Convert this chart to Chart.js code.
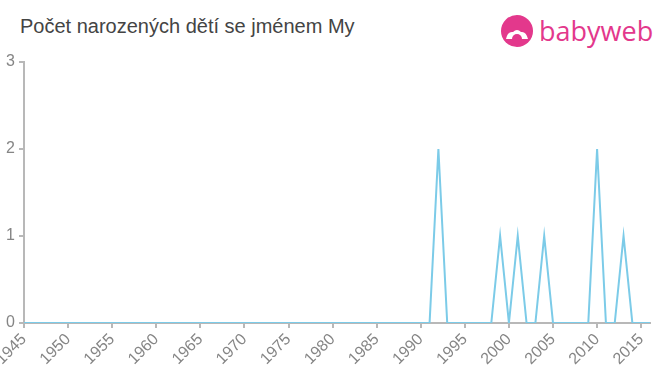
<!DOCTYPE html>
<html>
<head>
<meta charset="utf-8">
<script src="https://cdn.jsdelivr.net/npm/chart.js@4.4.1/dist/chart.umd.min.js"></script>
<style>
  html, body { margin: 0; padding: 0; background: #fff; overflow: hidden; }
  body { width: 660px; height: 375px; position: relative; font-family: "Liberation Sans", Arial, sans-serif; }
  #title { position: absolute; left: 20px; top: 15px; font-size: 20px; color: #444; }
  #logo { position: absolute; left: 500px; top: 14px; height: 34px; }
  #logo span { position: absolute; left: 39px; top: -2px; font-size: 27px; color: #e3388c; font-family: "Open Sans", sans-serif; }
  #chart { position: absolute; left: -12px; top: 0; }
</style>
</head>
<body>
<div id="title">Počet narozených dětí se jménem My</div>
<div id="logo">
  <svg width="34" height="34" viewBox="0 0 34 34">
    <circle cx="17" cy="17" r="16" fill="#e3388c"/>
    <path d="M6 25 Q8 17 13 18 Q17 14 21 18 Q26 17 28 25 Z" fill="#fff"/>
    <circle cx="17" cy="25" r="5" fill="#e3388c"/>
  </svg>
  <span>babyweb</span>
</div>
<canvas id="chart" width="672" height="375"></canvas>
<script>
const roky = []
for (let r = 1945; r <= 2016; r++) roky.push(r)

// roky, kdy se narodilo nejake dite se jmenem My
const nenuloveRoky = [1992, 1999, 2001, 2004, 2010, 2013]
const nenuloveHodnoty = [2, 1, 1, 1, 2, 1]

const xTicks = [1945, 1950, 1955, 1960, 1965, 1970, 1975, 1980, 1985, 1990, 1995, 2000, 2005, 2010, 2015]
const yTicks = [0, 1, 2, 3]

const body = roky.map(r => {
    const i = nenuloveRoky.indexOf(r)
    return { x: r, y: i >= 0 ? nenuloveHodnoty[i] : 0 }
})

const sedaOsa = '#b8b8b8'
const sedyText = '#858585'

new Chart(document.getElementById('chart'), {
    type: 'line',
    data: {
        datasets: [{
            data: body,
            borderColor: '#7ccbe8',
            borderWidth: 2,
            pointRadius: 0,
            tension: 0,
            fill: false
        }]
    },
    options: {
        responsive: false,
        animation: false,
        layout: { padding: { left: 14, right: 10, top: 62, bottom: 0 } },
        plugins: { legend: { display: false }, tooltip: { enabled: false } },
        scales: {
            x: {
                type: 'linear',
                min: 1945,
                max: 2016,
                afterBuildTicks: axis => {
                    axis.ticks = xTicks.map(v => ({ value: v }))
                },
                afterFit: axis => {
                    axis.height = 52
                    axis.paddingLeft = 0
                    axis.paddingRight = 0
                },
                grid: { display: true, drawOnChartArea: false, color: sedaOsa, tickLength: 5, lineWidth: 2 },
                border: { color: sedaOsa, width: 2 },
                ticks: {
                    color: sedyText,
                    font: { size: 16 },
                    maxRotation: 45,
                    minRotation: 45,
                    autoSkip: false,
                    padding: 2,
                    format: { useGrouping: false }
                }
            },
            y: {
                min: 0,
                max: 3,
                afterBuildTicks: axis => {
                    axis.ticks = yTicks.map(v => ({ value: v }))
                },
                afterFit: axis => { axis.width = 22 },
                grid: { display: true, drawOnChartArea: false, color: sedaOsa, tickLength: 5, lineWidth: 2 },
                border: { color: sedaOsa, width: 2 },
                ticks: {
                    color: sedyText,
                    font: { size: 16 },
                    padding: 4
                }
            }
        }
    }
})
</script>
</body>
</html>
